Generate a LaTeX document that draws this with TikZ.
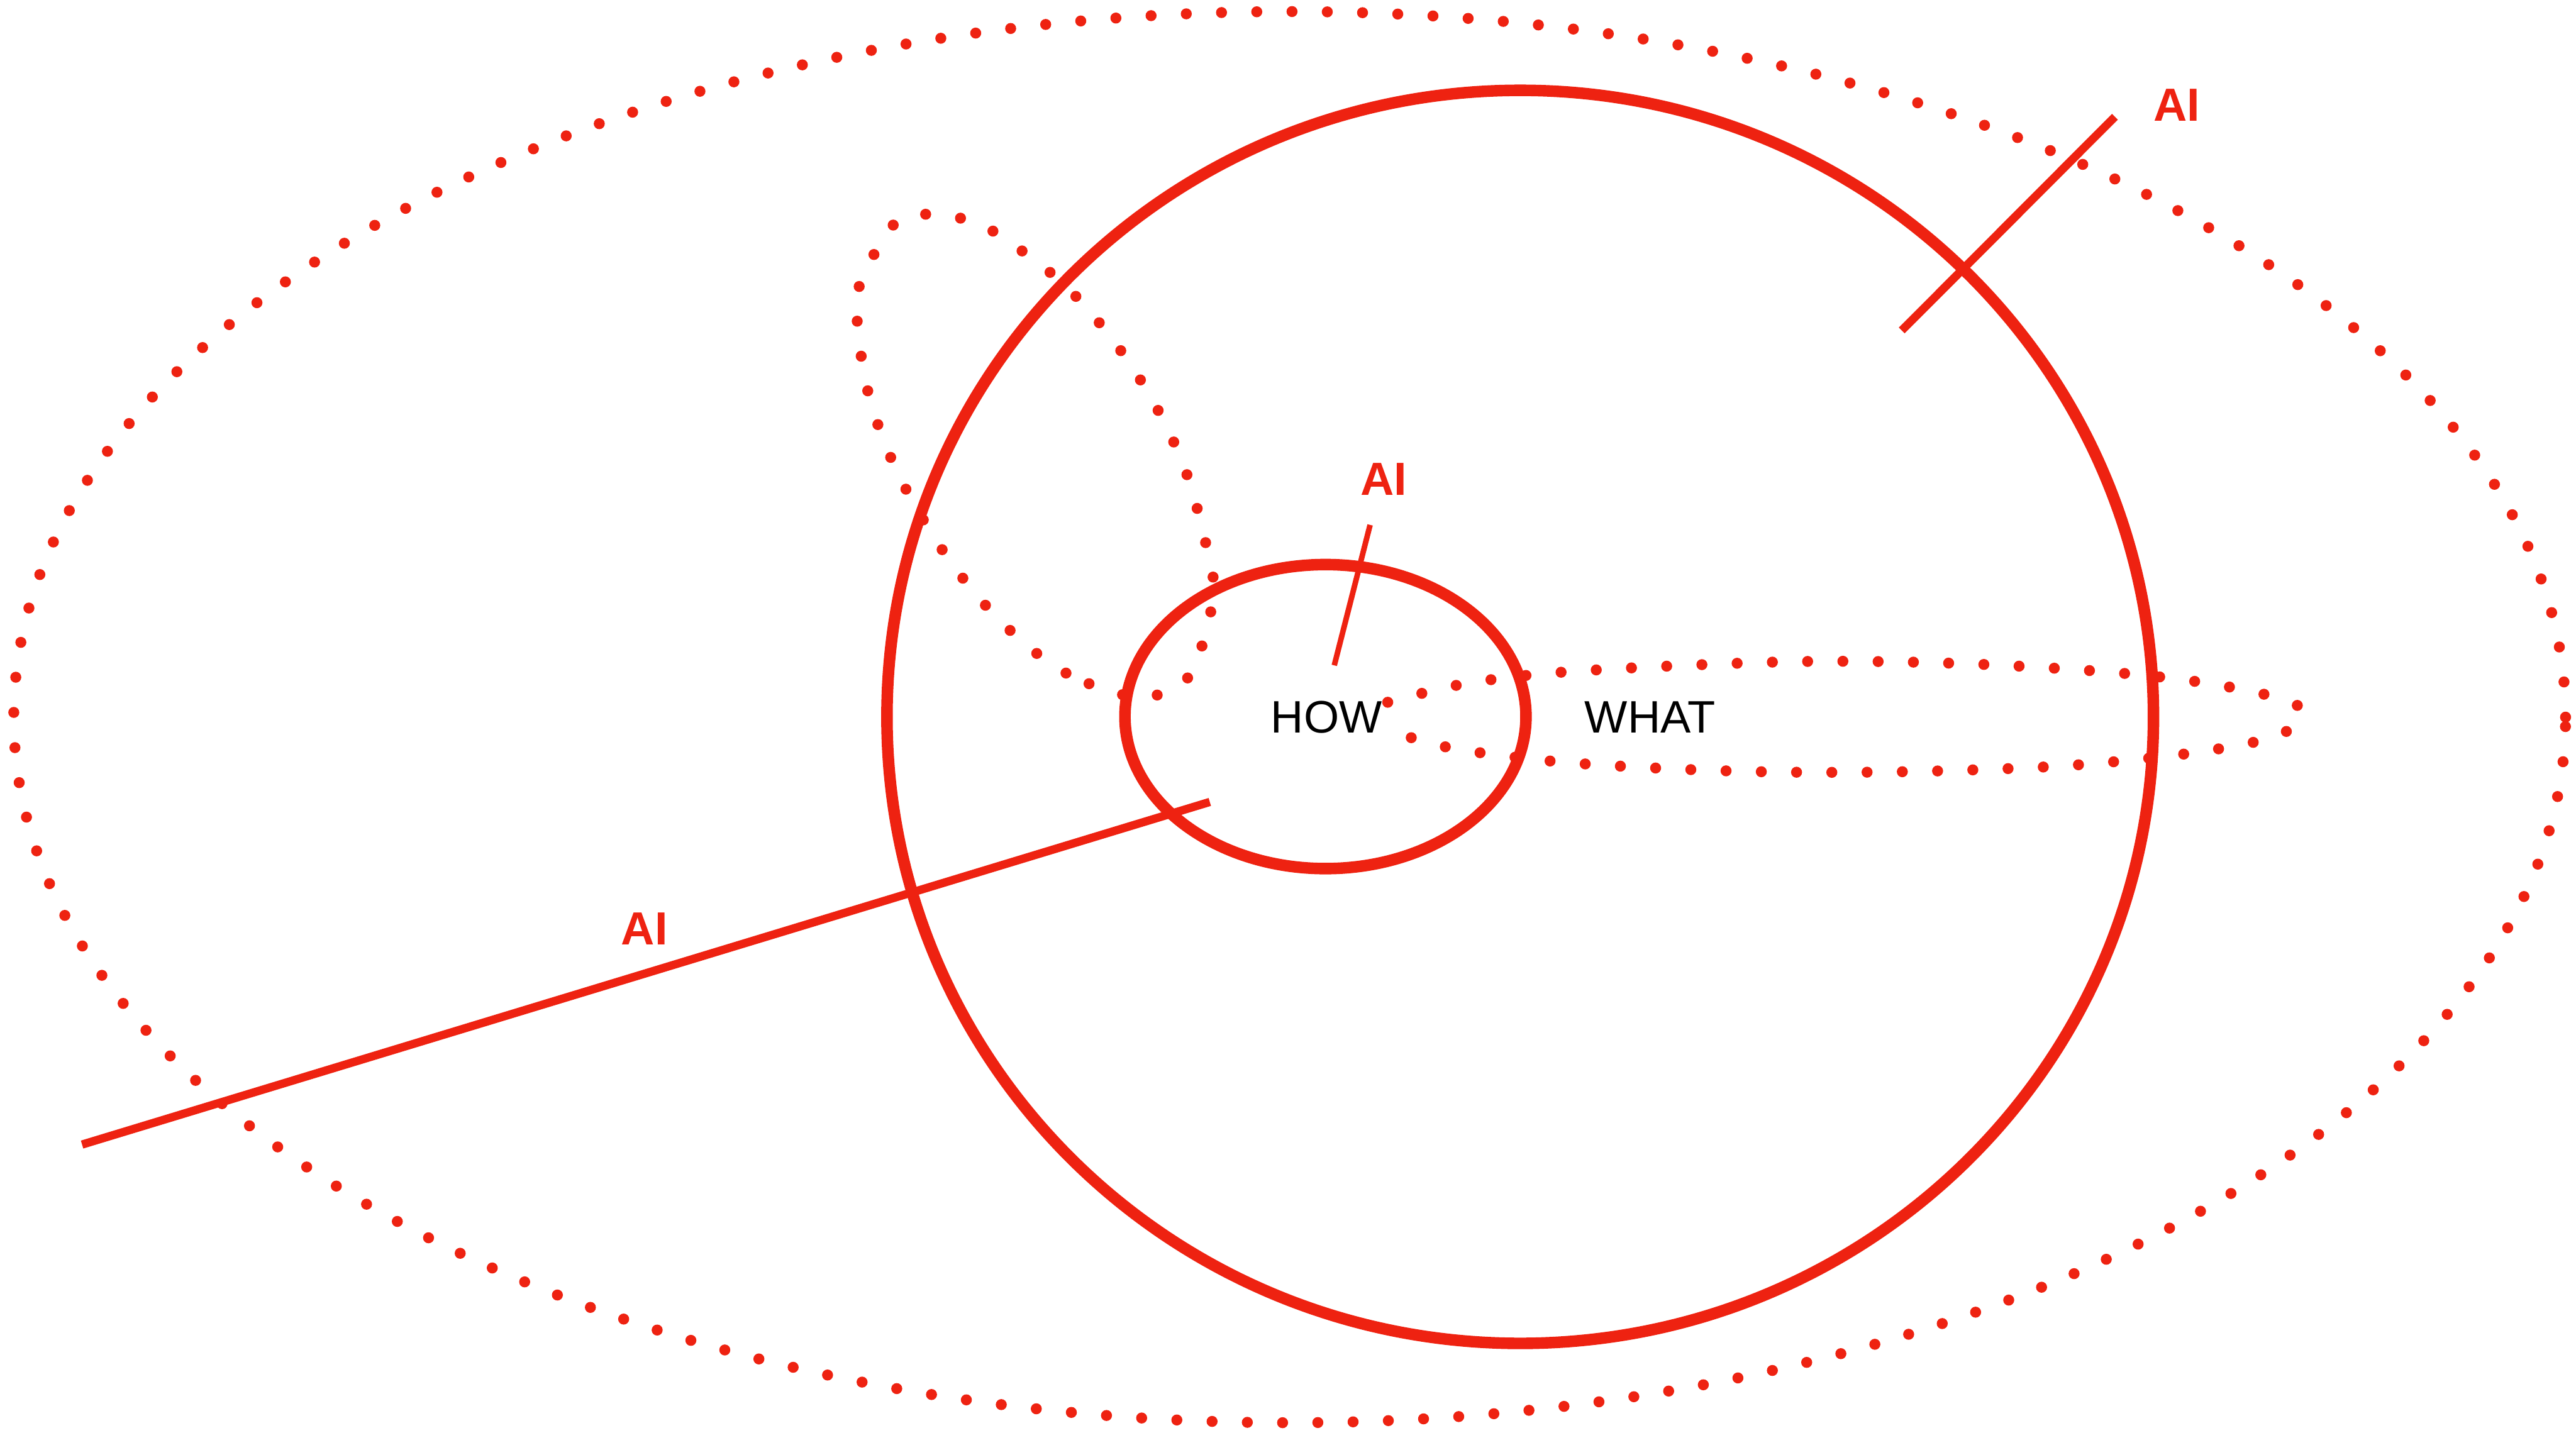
\documentclass[tikz,border=0pt]{standalone}
\usepackage{fontspec}
\setmainfont{Liberation Sans}
\definecolor{aired}{RGB}{238,34,17}
\begin{document}
\begin{tikzpicture}[
    dotline/.style={aired, line width=0.2cm, line cap=round, dash pattern=on 0pt off 0.64cm},
    ring/.style={aired, line width=0.21cm},
    cut/.style={aired, line width=0.15cm},
    ailabel/.style={text=aired, inner sep=0pt, font=\fontsize{24}{28}\selectfont\bfseries},
    word/.style={inner sep=0pt, font=\fontsize{23.5}{28}\selectfont}]
    \useasboundingbox (0,0) rectangle (46.76,-26.01);

    \coordinate (outer) at (23.41,-13.02);
    \coordinate (world) at (27.595,-13.015);
    \coordinate (core) at (24.06,-13.01);

    % dotted outlines
    \draw[dotline] (outer) ellipse [x radius=23.16, y radius=12.81];
    \draw[dotline] plot[smooth cycle, tension=0.6] coordinates {(20.55,-12.65) (19.35,-12.22) (18.34,-11.45) (17.48,-10.50) (16.76,-9.44) (16.17,-8.31) (15.75,-7.09) (15.56,-5.83) (15.60,-5.19) (16.20,-4.10) (16.80,-3.89) (17.43,-3.96) (18.03,-4.20) (19.40,-5.25) (20.60,-6.74) (21.48,-8.44) (21.98,-10.29) (22.01,-10.94) (21.66,-12.15) (21.19,-12.54)};
    \draw[dotline] plot[smooth, tension=0.6] coordinates {(25.19,-12.75) (26.45,-12.44) (27.73,-12.26) (29.02,-12.16) (30.82,-12.07) (32.73,-12.01) (34.65,-12.02) (36.57,-12.09) (38.49,-12.22) (39.97,-12.39) (41.23,-12.64) (41.80,-12.91) (41.44,-13.32) (40.84,-13.49) (39.57,-13.70) (37.66,-13.89) (35.74,-13.98) (33.83,-14.02) (31.91,-14.01) (29.98,-13.94) (28.07,-13.81) (26.24,-13.56) (25.02,-13.19)};

    % solid rings
    \draw[ring] (world) ellipse [x radius=11.495, y radius=11.375];
    \draw[ring] (core) ellipse [x radius=3.64, y radius=2.76];

    % cuts
    \coordinate (c1a) at (1.49,-20.78);
    \coordinate (c1b) at (21.96,-14.56);
    \coordinate (c2a) at (34.52,-6.00);
    \coordinate (c2b) at (38.39,-2.12);
    \coordinate (c3a) at (24.22,-12.08);
    \coordinate (c3b) at (24.87,-9.53);
    \draw[cut] (c1a) -- (c1b);
    \draw[cut] (c2a) -- (c2b);
    \draw[aired, line width=0.1cm] (c3a) -- (c3b);

    % labels
    \node[word] (how) at (24.08,-13.02) {HOW};
    \node[word] (what) at (29.95,-13.02) {WHAT};
    \node[ailabel] (ai1) at (11.70,-16.86) {AI};
    \node[ailabel] (ai2) at (39.51,-1.91) {AI};
    \node[ailabel] (ai3) at (25.12,-8.70) {AI};
\end{tikzpicture}
\end{document}
